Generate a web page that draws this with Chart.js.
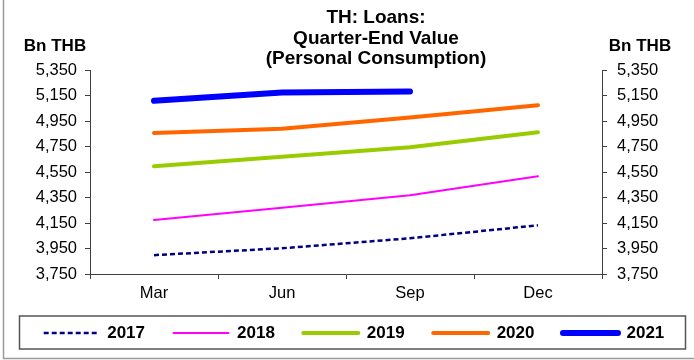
<!DOCTYPE html>
<html>
<head>
<meta charset="utf-8">
<script src="https://cdn.jsdelivr.net/npm/chart.js@4/dist/chart.umd.min.js"></script>
<style>
  html, body { margin: 0; padding: 0; background: #fff; }
  #wrap { width: 694px; height: 360px; position: relative; }
</style>
</head>
<body>
<div id="wrap"><canvas id="chart" width="694" height="360"></canvas></div>
<script>
// Quarter-end personal consumption loans, Bn THB
var quarters = ["Mar", "Jun", "Sep", "Dec"];
var years = ["2017", "2018", "2019", "2020", "2021"];

var loans2017 = [3898, 3952, 4030, 4132];
var loans2018 = [4174, 4270, 4367, 4517];
var loans2019 = [4595, 4669, 4744, 4861];
var loans2020 = [4856, 4890, 4978, 5074];
var loans2021 = [5108, 5173, 5181, null];

var axisMin = 3750;
var axisMax = 5350;
var axisStep = 200;

var titleLines = ["TH: Loans:", "Quarter-End Value", "(Personal Consumption)"];
var unitLabel = "Bn THB";

var FONT = "'Liberation Sans', Arial, sans-serif";
var AXIS_COLOR = "#404040";

function series(label, data, color, width, dash) {
    return {
        label: label,
        data: data,
        borderColor: color,
        backgroundColor: color,
        borderWidth: width,
        borderDash: dash || [],
        borderCapStyle: dash ? "butt" : "round",
        borderJoinStyle: "round",
        pointRadius: 0,
        pointHoverRadius: 0,
        tension: 0,
        fill: false,
        spanGaps: false,
        pointStyle: "line",
        yAxisID: "y"
    };
}

// title, unit captions, box round the legend, frame lines
var decorations = {
    id: "decorations",
    afterLayout: function (chart) {
        // the legend's top padding overlaps the month labels; let them draw unclipped
        chart.scales.x.bottom += 20;
    },
    afterDraw: function (chart) {
        var ctx = chart.ctx;
        ctx.save();
        ctx.fillStyle = "#000";
        ctx.textAlign = "center";
        ctx.textBaseline = "middle";

        ctx.font = "bold 19px " + FONT;
        titleLines.forEach(function (t, i) {
            ctx.fillText(t, 376, 18 + i * 20.5);
        });

        ctx.font = "bold 17px " + FONT;
        ctx.fillText(unitLabel, 55, 46);
        ctx.fillText(unitLabel, 640, 46);

        ctx.strokeStyle = "#555";
        ctx.lineWidth = 1.5;
        ctx.strokeRect(19.5, 316, 666, 33);

        ctx.strokeStyle = "#9a9a9a";
        ctx.beginPath();
        ctx.moveTo(3.5, 0);
        ctx.lineTo(3.5, 358.5);
        ctx.lineTo(694, 358.5);
        ctx.stroke();
        ctx.restore();
    }
};

function valueAxis(position, width, pad) {
    return {
        type: "linear",
        position: position,
        min: axisMin,
        max: axisMax,
        afterBuildTicks: function (scale) {
            var t = [];
            for (var v = axisMin; v <= axisMax; v += axisStep) t.push({ value: v });
            scale.ticks = t;
        },
        afterFit: function (scale) { scale.width = width; },
        grid: {
            display: true,
            drawOnChartArea: false,
            drawTicks: true,
            tickLength: 5,
            tickColor: AXIS_COLOR
        },
        border: { display: true, color: AXIS_COLOR, width: 1 },
        ticks: {
            color: "#000",
            padding: pad,
            autoSkip: false,
            font: { family: FONT, size: 16.5 },
            callback: function (v) { return v.toLocaleString("en-US"); }
        }
    };
}

new Chart(document.getElementById("chart"), {
    type: "line",
    data: {
        labels: quarters,
        datasets: [
            series(years[0], loans2017, "#000080", 2.5, [5, 3]),
            series(years[1], loans2018, "#FF00FF", 2),
            series(years[2], loans2019, "#99CC00", 4),
            series(years[3], loans2020, "#FF6600", 4),
            series(years[4], loans2021, "#0000FF", 6)
        ]
    },
    options: {
        responsive: false,
        animation: false,
        layout: { padding: { left: 14, right: 0, top: 70, bottom: 8.5 } },
        plugins: {
            title: { display: false },
            legend: {
                position: "bottom",
                labels: {
                    usePointStyle: true,
                    pointStyleWidth: 55,
                    padding: 28.5,
                    color: "#000",
                    font: { family: FONT, size: 17, weight: "bold" },
                    generateLabels: function (chart) {
                        var items = Chart.defaults.plugins.legend.labels.generateLabels(chart);
                        items.forEach(function (item) {
                            var ds = chart.data.datasets[item.datasetIndex];
                            item.lineDash = ds.borderDash;
                            item.lineWidth = ds.borderWidth;
                            item.lineCap = ds.borderCapStyle;
                            item.strokeStyle = ds.borderColor;
                        });
                        return items;
                    }
                },
                onClick: null
            },
            tooltip: { enabled: false }
        },
        scales: {
            x: {
                type: "category",
                offset: true,
                afterFit: function (scale) { scale.height = 22; },
                grid: {
                    display: true,
                    offset: true,
                    drawOnChartArea: false,
                    drawTicks: true,
                    tickLength: 5,
                    tickColor: AXIS_COLOR
                },
                border: { display: true, color: AXIS_COLOR, width: 1 },
                ticks: {
                    color: "#000",
                    padding: 5,
                    font: { family: FONT, size: 16.5 }
                }
            },
            y: valueAxis("left", 76, 8),
            y2: valueAxis("right", 92, 10)
        }
    },
    plugins: [decorations]
});
</script>
</body>
</html>
